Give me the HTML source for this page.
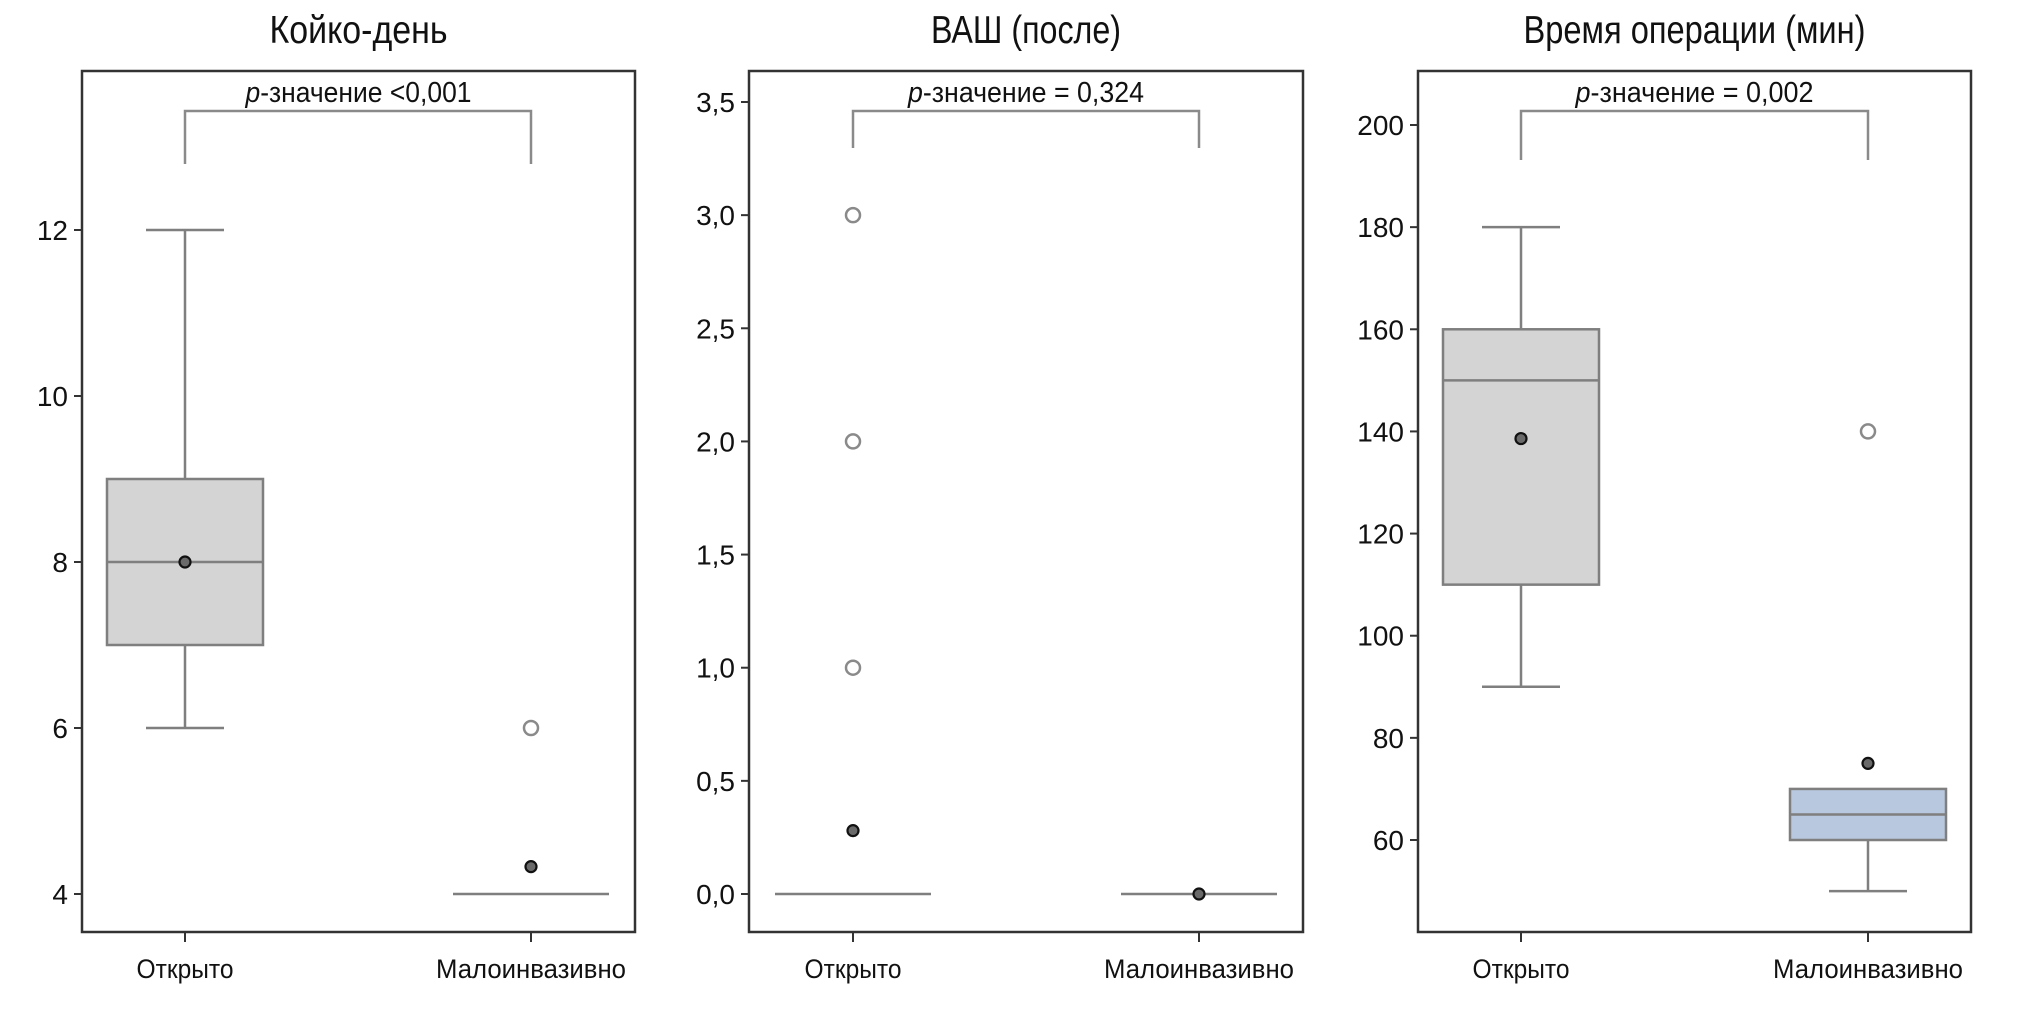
<!DOCTYPE html>
<html><head><meta charset="utf-8"><style>
html,body{margin:0;padding:0;background:#fff;}
svg{display:block;font-family:"Liberation Sans Narrow","Liberation Sans",sans-serif;}
</style></head><body>
<svg id="chart" width="2020" height="1010" viewBox="0 0 2020 1010" xmlns="http://www.w3.org/2000/svg"></svg>
<script>
// Panel data
const panelTitles = ["Койко-день", "ВАШ (после)", "Время операции (мин)"];
const pValueLabels = ["p-значение <0,001", "p-значение = 0,324", "p-значение = 0,002"];
const categories = ["Открыто", "Малоинвазивно"];
// Койко-день
const bedTicks = [4, 6, 8, 10, 12];
const bedTickLabels = ["4", "6", "8", "10", "12"];
const bedQ1 = [7, 4], bedMedian = [8, 4], bedQ3 = [9, 4];
const bedWhiskerLow = [6, 4], bedWhiskerHigh = [12, 4];
const bedMean = [8, 4.33];
const bedOutliers = [[], [6]];
// ВАШ
const vasTicks = [0, 0.5, 1, 1.5, 2, 2.5, 3, 3.5];
const vasTickLabels = ["0,0", "0,5", "1,0", "1,5", "2,0", "2,5", "3,0", "3,5"];
const vasQ1 = [0, 0], vasMedian = [0, 0], vasQ3 = [0, 0];
const vasWhiskerLow = [0, 0], vasWhiskerHigh = [0, 0];
const vasMean = [0.28, 0];
const vasOutliers = [[1, 2, 3], []];
// Время операции
const timeTicks = [60, 80, 100, 120, 140, 160, 180, 200];
const timeTickLabels = ["60", "80", "100", "120", "140", "160", "180", "200"];
const timeQ1 = [110, 60], timeMedian = [150, 65], timeQ3 = [160, 70];
const timeWhiskerLow = [90, 50], timeWhiskerHigh = [180, 70];
const timeMean = [138.6, 75];
const timeOutliers = [[], [140]];

const NS = "http://www.w3.org/2000/svg";
const svg = document.getElementById("chart");
function mk(tag, attrs, parent) {
  const e = document.createElementNS(NS, tag);
  for (const k in attrs) e.setAttribute(k, attrs[k]);
  (parent || svg).appendChild(e);
  return e;
}

const layouts = [
  {left: 82, right: 635, top: 71, bottom: 932, cx: [185, 531], v0: 4, y0: 894, v1: 12, y1: 230, bracketBottom: 164, titleLen: 178, pLen: 226,
   ticks: bedTicks, tickLabels: bedTickLabels, q1: bedQ1, med: bedMedian, q3: bedQ3, wl: bedWhiskerLow, wh: bedWhiskerHigh, mean: bedMean, out: bedOutliers, fills: ["#d4d4d4", "#d4d4d4"]},
  {left: 749, right: 1303, top: 71, bottom: 932, cx: [853, 1199], v0: 0, y0: 894, v1: 3.5, y1: 102, bracketBottom: 148, titleLen: 190, pLen: 236,
   ticks: vasTicks, tickLabels: vasTickLabels, q1: vasQ1, med: vasMedian, q3: vasQ3, wl: vasWhiskerLow, wh: vasWhiskerHigh, mean: vasMean, out: vasOutliers, fills: ["#d4d4d4", "#d4d4d4"]},
  {left: 1418, right: 1971, top: 71, bottom: 932, cx: [1521, 1868], v0: 60, y0: 840, v1: 200, y1: 125, bracketBottom: 160, titleLen: 342, pLen: 238,
   ticks: timeTicks, tickLabels: timeTickLabels, q1: timeQ1, med: timeMedian, q3: timeQ3, wl: timeWhiskerLow, wh: timeWhiskerHigh, mean: timeMean, out: timeOutliers, fills: ["#d4d4d4", "#b8c8de"]}
];

layouts.forEach((L, pi) => {
  const g = mk("g", {});
  
  
  const y = v => L.y0 + (v - L.v0) * (L.y1 - L.y0) / (L.v1 - L.v0);
  const midX = (L.left + L.right) / 2;

  const title = mk("text", {x: midX, y: 43, "font-size": 39, "text-anchor": "middle", fill: "#111", textLength: L.titleLen, lengthAdjust: "spacingAndGlyphs"}, g);
  title.textContent = panelTitles[pi];
  
  

  const frame = mk("rect", {x: L.left, y: L.top, width: L.right - L.left, height: L.bottom - L.top, fill: "none", stroke: "#333", "stroke-width": 2.5}, g);
  
  

  L.ticks.forEach((t, i) => {
    const ty = y(t);
    const tk = mk("line", {x1: L.left - 8, x2: L.left, y1: ty, y2: ty, stroke: "#333", "stroke-width": 2}, g);
    
    
    const lab = L.tickLabels[i];
    const tl = mk("text", {x: L.left - 14, y: ty + 10, "font-size": 28, "text-anchor": "end", fill: "#111"}, g);
    tl.textContent = lab;
    
    
  });

  categories.forEach((c, ci) => {
    const cx = L.cx[ci];
    const xt = mk("line", {x1: cx, x2: cx, y1: L.bottom, y2: L.bottom + 10, stroke: "#333", "stroke-width": 2}, g);
    
    
    const xl = mk("text", {x: cx, y: 978, "font-size": 27, "text-anchor": "middle", fill: "#111", textLength: ci === 0 ? 97 : 190, lengthAdjust: "spacingAndGlyphs"}, g);
    xl.textContent = c;
    
    

    const stroke = "#7f7f7f";
    if (L.wh[ci] > L.q3[ci]) {
      const w = mk("line", {x1: cx, x2: cx, y1: y(L.q3[ci]), y2: y(L.wh[ci]), stroke: stroke, "stroke-width": 2.5}, g);
      
      
      const cap = mk("line", {x1: cx - 39, x2: cx + 39, y1: y(L.wh[ci]), y2: y(L.wh[ci]), stroke: stroke, "stroke-width": 2.5}, g);
      
      
    }
    if (L.wl[ci] < L.q1[ci]) {
      const w = mk("line", {x1: cx, x2: cx, y1: y(L.q1[ci]), y2: y(L.wl[ci]), stroke: stroke, "stroke-width": 2.5}, g);
      
      
      const cap = mk("line", {x1: cx - 39, x2: cx + 39, y1: y(L.wl[ci]), y2: y(L.wl[ci]), stroke: stroke, "stroke-width": 2.5}, g);
      
      
    }
    if (L.q3[ci] > L.q1[ci]) {
      const b = mk("rect", {x: cx - 78, y: y(L.q3[ci]), width: 156, height: y(L.q1[ci]) - y(L.q3[ci]), fill: L.fills[ci], stroke: stroke, "stroke-width": 2.5}, g);
      
      
    }
    const m = mk("line", {x1: cx - 78, x2: cx + 78, y1: y(L.med[ci]), y2: y(L.med[ci]), stroke: stroke, "stroke-width": 2.5}, g);
    
    
    L.out[ci].forEach(o => {
      const oc = mk("circle", {cx: cx, cy: y(o), r: 7, fill: "#fff", stroke: "#8a8a8a", "stroke-width": 2.5}, g);
      
      
    });
    const mc = mk("circle", {cx: cx, cy: y(L.mean[ci]), r: 5.5, fill: "#6a6a6a", stroke: "#111", "stroke-width": 2.2}, g);
    
    
  });

  const br = mk("path", {d: `M${L.cx[0]},${L.bracketBottom} V111 H${L.cx[1]} V${L.bracketBottom}`, fill: "none", stroke: "#8a8a8a", "stroke-width": 2.5}, g);
  
  
  const pt = mk("text", {x: midX, y: 102, "font-size": 29, "text-anchor": "middle", fill: "#111", textLength: L.pLen, lengthAdjust: "spacingAndGlyphs"}, g);
  
  
  const pv = pValueLabels[pi];
  const ts1 = mk("tspan", {"font-style": "italic"}, pt);
  ts1.textContent = "p";
  const ts2 = mk("tspan", {}, pt);
  ts2.textContent = pv.slice(1);
});
</script>
</body></html>
